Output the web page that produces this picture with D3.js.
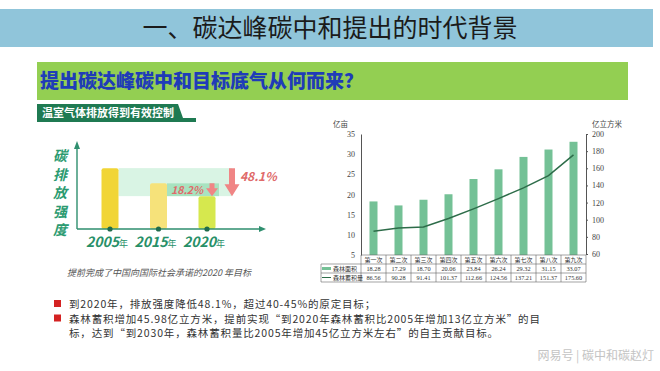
<!DOCTYPE html>
<html lang="zh">
<head>
<meta charset="UTF-8">
<title>碳达峰碳中和提出的时代背景</title>
<style>
  body { margin: 0; background: #fff; }
  svg { display: block; font-family: "Noto Sans CJK SC", sans-serif; }
  .tbl text { font-family: "Liberation Serif", "Noto Sans CJK SC", serif; }
</style>
</head>
<body>
<svg width="660" height="371"></svg>
<script src="https://d3js.org/d3.v7.min.js"></script>
<script>
// left chart: carbon intensity index (2005 = 100)
const years = ['2005', '2015', '2020'];
const intensity = [100, 75, 54];
const barColors = ['#f1d536', '#f6e27a', '#d6e84e'];

// right chart: forest inventories
const rounds = ['第一次', '第二次', '第三次', '第四次', '第五次', '第六次', '第七次', '第八次', '第九次'];
const forestArea = [18.28, 17.29, 18.70, 20.06, 23.84, 26.24, 29.32, 31.15, 33.07];
const forestStock = [86.56, 90.28, 91.41, 101.37, 112.66, 124.56, 137.21, 151.37, 175.60];
const areaTicks = [5, 10, 15, 20, 25, 30, 35];
const stockTicks = [60, 80, 100, 120, 140, 160, 180, 200];

const notes = [
  ['到2020年，排放强度降低48.1%，超过40-45%的原定目标；'],
  ['森林蓄积增加45.98亿立方米，提前实现“到2020年森林蓄积比2005年增加13亿立方米”的目',
   '标，达到“到2030年，森林蓄积量比2005年增加45亿立方米左右”的自主贡献目标。']
];

const svg = d3.select('svg');

// header banners
svg.append('rect').attr('x', 0).attr('y', 9).attr('width', 653).attr('height', 38).attr('fill', '#90c5da');
svg.append('text').attr('x', 330).attr('y', 37).attr('text-anchor', 'middle')
  .attr('font-size', 25).attr('fill', '#1b1b1b').text('一、碳达峰碳中和提出的时代背景');

svg.append('rect').attr('x', 37).attr('y', 62).attr('width', 591).attr('height', 38).attr('fill', '#93cf52');
svg.append('text').attr('x', 40).attr('y', 88).attr('font-size', 19).attr('font-weight', 900)
  .attr('fill', '#1f3cb8').text('提出碳达峰碳中和目标底气从何而来？');

svg.append('path').attr('d', 'M37,104H178L183,118H196V122H37Z').attr('fill', '#1f7a52');
svg.append('text').attr('x', 42).attr('y', 117).attr('font-size', 11).attr('font-weight', 700)
  .attr('fill', '#fff').text('温室气体排放得到有效控制');

// ---- left chart
const lx = d3.scalePoint().domain(years).range([110, 207]);
const ly = d3.scaleLinear().domain([0, 138]).range([229, 145]);
const bw = 17;
const left = svg.append('g');

left.append('rect')
  .attr('x', lx('2005') + bw / 2).attr('y', ly(intensity[0]))
  .attr('width', 232 - lx('2005') - bw / 2).attr('height', ly(intensity[2]) - ly(intensity[0]))
  .attr('fill', '#d9f4e4');
left.append('rect')
  .attr('x', lx('2015') + bw / 2).attr('y', ly(intensity[1]))
  .attr('width', 219 - lx('2015') - bw / 2).attr('height', ly(intensity[2]) - ly(intensity[1]))
  .attr('fill', '#a8e3c0');

left.selectAll('rect.bar')
  .data(intensity)
  .join('rect')
  .attr('class', 'bar')
  .attr('x', (d, i) => lx(years[i]) - bw / 2)
  .attr('y', (d) => ly(d))
  .attr('width', bw)
  .attr('height', (d) => ly(0) - ly(d))
  .attr('rx', 2)
  .attr('fill', (d, i) => barColors[i]);

function downArrow(x, y1, y2, sw, hw, hh) {
  return `M${x - sw / 2},${y1}H${x + sw / 2}V${y2 - hh}H${x + hw / 2}L${x},${y2}L${x - hw / 2},${y2 - hh}H${x - sw / 2}Z`;
}
left.append('path').attr('d', downArrow(232, ly(intensity[0]), ly(intensity[2]), 6, 15, 12)).attr('fill', '#f08585');
left.append('path').attr('d', downArrow(212, ly(intensity[1]), ly(intensity[2]), 5, 12, 8)).attr('fill', '#f08585');

left.append('text').attr('x', 240).attr('y', 181).attr('font-size', 12).attr('font-weight', 700)
  .attr('font-style', 'italic').attr('fill', '#e06a6a').text('48.1%');
left.append('text').attr('x', 171).attr('y', 194).attr('font-size', 10.5).attr('font-weight', 700)
  .attr('font-style', 'italic').attr('fill', '#e06a6a').text('18.2%');

const axisColor = '#2f8f6f';
left.append('path').attr('d', 'M77,229V145M77,229H261')
  .attr('stroke', axisColor).attr('stroke-width', 1.4).attr('fill', 'none');
left.append('path').attr('d', 'M74,149L77,141L80,149Z').attr('fill', axisColor);
left.append('path').attr('d', 'M259,226L266,229L259,232Z').attr('fill', axisColor);

left.selectAll('circle')
  .data(years)
  .join('circle')
  .attr('cx', (d) => lx(d)).attr('cy', 229).attr('r', 2.6).attr('fill', '#1f6b4c');

const yearLabels = left.selectAll('text.yr')
  .data(years)
  .join('text')
  .attr('class', 'yr')
  .attr('x', (d) => lx(d) - 3).attr('y', 247)
  .attr('text-anchor', 'middle')
  .attr('fill', '#279068');
yearLabels.append('tspan').attr('font-size', 14).attr('font-weight', 700).attr('font-style', 'italic').text((d) => d);
yearLabels.append('tspan').attr('font-size', 9).text('年');

left.selectAll('text.ylab')
  .data('碳排放强度'.split(''))
  .join('text')
  .attr('class', 'ylab')
  .attr('x', 60).attr('y', (d, i) => 161 + i * 18.5)
  .attr('text-anchor', 'middle')
  .attr('font-size', 14).attr('font-weight', 700).attr('font-style', 'italic')
  .attr('fill', '#2a9a70')
  .text((d) => d);

left.append('text').attr('x', 159).attr('y', 276).attr('text-anchor', 'middle')
  .attr('font-size', 9).attr('font-style', 'italic').attr('fill', '#555')
  .text('提前完成了中国向国际社会承诺的2020 年目标');

// ---- right chart
const rx = d3.scaleBand().domain(rounds).range([361, 586]);
const ryA = d3.scaleLinear().domain([5, 35]).range([255, 134]);
const ryS = d3.scaleLinear().domain([60, 200]).range([254, 134]);
const right = svg.append('g');

right.selectAll('rect')
  .data(forestArea)
  .join('rect')
  .attr('x', (d, i) => rx(rounds[i]) + rx.bandwidth() / 2 - 4)
  .attr('y', (d) => ryA(d))
  .attr('width', 8)
  .attr('height', (d) => ryA(5) - ryA(d))
  .attr('fill', '#74c196');

right.append('path')
  .datum(forestStock)
  .attr('d', d3.line().x((d, i) => rx(rounds[i]) + rx.bandwidth() / 2).y((d) => ryS(d)))
  .attr('fill', 'none').attr('stroke', '#2d6c49').attr('stroke-width', 1.5);

const ga = right.append('g').attr('class', 'tbl').attr('transform', 'translate(361,0)')
  .call(d3.axisLeft(ryA).tickValues(areaTicks).tickSize(0).tickPadding(6));
const gs = right.append('g').attr('class', 'tbl').attr('transform', 'translate(586,0)')
  .call(d3.axisRight(ryS).tickValues(stockTicks).tickSize(2).tickSizeOuter(0).tickPadding(4));
[ga, gs].forEach((g) => {
  g.selectAll('text').attr('font-size', 8).attr('fill', '#444');
  g.selectAll('line, path').attr('stroke', '#555');
});

right.append('text').attr('x', 333).attr('y', 127).attr('font-size', 7.5).attr('fill', '#444').text('亿亩');
right.append('text').attr('x', 592).attr('y', 127).attr('font-size', 7.5).attr('fill', '#444').text('亿立方米');

// data table under the axis
const rowY = [255, 264, 273, 282];
const tbl = right.append('g').attr('class', 'tbl');
tbl.append('path')
  .attr('d', `M361,${rowY[0]}H586M321,${rowY[1]}H586M321,${rowY[2]}H586M321,${rowY[3]}H586` +
    `M321,${rowY[1]}V${rowY[3]}` +
    rounds.map((r) => `M${rx(r)},${rowY[0]}V${rowY[3]}`).join('') + `M586,${rowY[0]}V${rowY[3]}`)
  .attr('stroke', '#666').attr('stroke-width', 0.6).attr('fill', 'none');

const rows = [rounds, forestArea.map((d) => d.toFixed(2)), forestStock.map((d) => d.toFixed(2))];
rows.forEach((row, r) => {
  tbl.selectAll(null)
    .data(row)
    .join('text')
    .attr('x', (d, i) => rx(rounds[i]) + rx.bandwidth() / 2)
    .attr('y', rowY[r] + 6.8)
    .attr('text-anchor', 'middle')
    .attr('font-size', r === 0 ? 6 : 6.3)
    .attr('fill', '#333')
    .text((d) => d);
});
tbl.append('line').attr('x1', 322).attr('x2', 331).attr('y1', rowY[1] + 4.5).attr('y2', rowY[1] + 4.5)
  .attr('stroke', '#74c196').attr('stroke-width', 3);
tbl.append('line').attr('x1', 322).attr('x2', 331).attr('y1', rowY[2] + 4.5).attr('y2', rowY[2] + 4.5)
  .attr('stroke', '#2d6c49').attr('stroke-width', 1);
tbl.append('text').attr('x', 333).attr('y', rowY[1] + 6.8).attr('font-size', 6).attr('fill', '#333').text('森林面积');
tbl.append('text').attr('x', 333).attr('y', rowY[2] + 6.8).attr('font-size', 6).attr('fill', '#333').text('森林蓄积量');

// ---- notes
let lineNo = 0;
notes.forEach((para) => {
  const y0 = 308 + lineNo * 14.5;
  svg.append('rect').attr('x', 54).attr('y', y0 - 8).attr('width', 7).attr('height', 7).attr('fill', '#d42222');
  para.forEach((line) => {
    svg.append('text').attr('x', 69).attr('y', 308 + lineNo * 14.5)
      .attr('font-size', 10.5).attr('letter-spacing', 0.85).attr('fill', '#333').text(line);
    lineNo++;
  });
});

svg.append('text').attr('x', 654).attr('y', 360).attr('text-anchor', 'end')
  .attr('font-size', 12).attr('fill', '#c4c4c4').text('网易号 | 碳中和碳赵灯');
</script>
</body>
</html>
